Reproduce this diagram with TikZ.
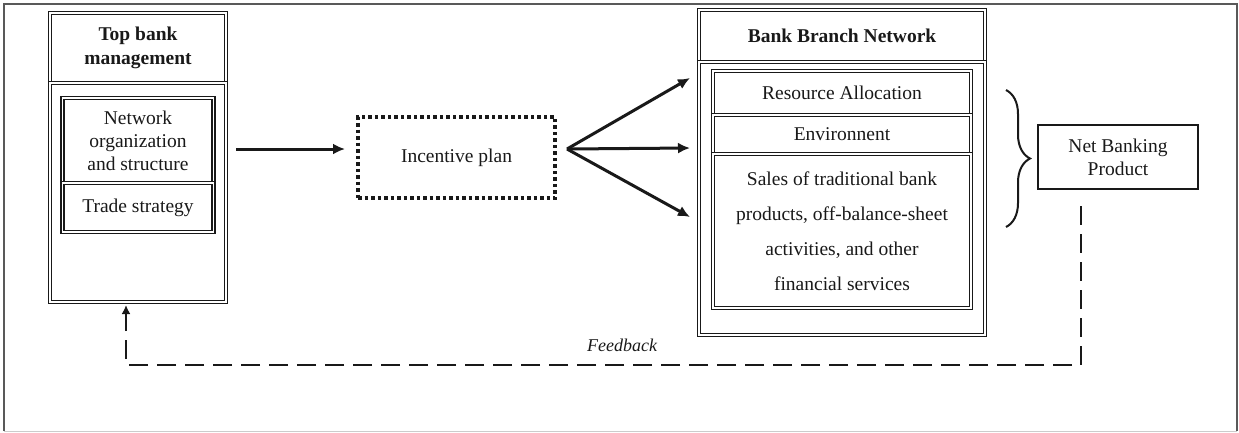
\documentclass[tikz,border=0pt]{standalone}
\usepackage{fontspec}
\setmainfont{Liberation Serif}
\usetikzlibrary{positioning,arrows.meta,decorations.pathreplacing}

\tikzset{
  txt/.style={font=\fontsize{19.5}{23}\selectfont, text=black!90},
  dbox/.style={txt, draw=black!90, double, double distance=1.8pt, line width=1.2pt,
    outer sep=0pt, inner sep=2pt, align=center},
  sbox/.style={txt, draw=black!90, line width=1.8pt, outer sep=0pt, align=center},
  dotbox/.style={txt, draw=black!90, line width=3.5pt, dash pattern=on 3.5pt off 3pt,
    outer sep=0pt, align=center},
  arrow/.style={draw=black!90, line width=3pt, -{Latex[length=12pt,width=11pt]}},
  feedback/.style={draw=black!90, line width=2.6pt, dash pattern=on 19pt off 9pt,
    -{Latex[length=9pt,width=9pt]}},
  brace/.style={draw=black!90, line width=2pt, decorate,
    decoration={brace, amplitude=24pt}},
  frame/.style={draw=black!65, line width=2pt}
}

\begin{document}
\begin{tikzpicture}[x=1pt, y=-1pt]
  \useasboundingbox (0,0) rectangle (1239,432);
  % cadre
  \draw[frame] (4,431) -- (4,4) -- (1237,4) -- (1237,431);
  \draw[black!20, line width=1pt] (4,431) -- (1237,431);

  % Top bank management
  \node[dbox, minimum width=176pt, minimum height=70pt,
    font=\bfseries\fontsize{19.5}{24}\selectfont] (mgmt) at (138,48) {Top bank\\management};
  \node[dbox, minimum width=176pt, minimum height=219pt, below=0pt of mgmt] (mgmtbody) {};
  \node[dbox, minimum width=151pt, minimum height=85pt, below=15pt of mgmt] (netorg)
    {Network\\organization\\and structure};
  \node[dbox, minimum width=151pt, minimum height=49pt, below=0pt of netorg] (trade) {Trade strategy};

  % Incentive plan
  \node[dotbox, minimum width=197pt, minimum height=81pt] (incentive) at (456.5,157.5) {Incentive plan};

  % Bank Branch Network
  \node[dbox, minimum width=286pt, minimum height=52pt,
    font=\bfseries\fontsize{19.5}{23}\selectfont] (branch) at (842,36) {Bank Branch Network};
  \node[dbox, minimum width=286pt, minimum height=273pt, below=0pt of branch] (branchbody) {};
  \node[dbox, minimum width=258pt, minimum height=44pt, below=9pt of branch] (resalloc) {Resource Allocation};
  \node[dbox, minimum width=258pt, minimum height=39pt, below=0pt of resalloc] (env) {Environnent};
  \node[dbox, minimum width=258pt, minimum height=154pt, below=0pt of env,
    font=\fontsize{19.5}{35}\selectfont] (sales)
    {Sales of traditional bank\\products, off-balance-sheet\\activities, and other\\financial services};

  % Net Banking Product
  \node[sbox, minimum width=160pt, minimum height=64pt] (nbp) at (1118,157) {Net Banking\\Product};

  % fleches
  \coordinate (fan) at (567,149);
  \draw[arrow] ([xshift=10pt]mgmtbody.east |- fan) -- ([xshift=-13pt]incentive.west |- fan);
  \foreach \ty [count=\i] in {78,148,217} {
    \coordinate (tip\i) at (690,\ty);
    \draw[arrow] (fan) -- (tip\i);
  }

  % accolade
  \coordinate (brtop) at (1006,90);
  \coordinate (brbot) at (1006,227);
  \draw[brace] (brtop) -- (brbot);

  % retour
  \draw[feedback] ([xshift=-37pt,yshift=-17pt]nbp.south) -- ++(0,159)
    -| ([xshift=-12pt,yshift=-3pt]mgmtbody.south);
  \node[txt, font=\itshape\fontsize{18}{20}\selectfont] (fblabel) at (622,345) {Feedback};
\end{tikzpicture}
\end{document}
